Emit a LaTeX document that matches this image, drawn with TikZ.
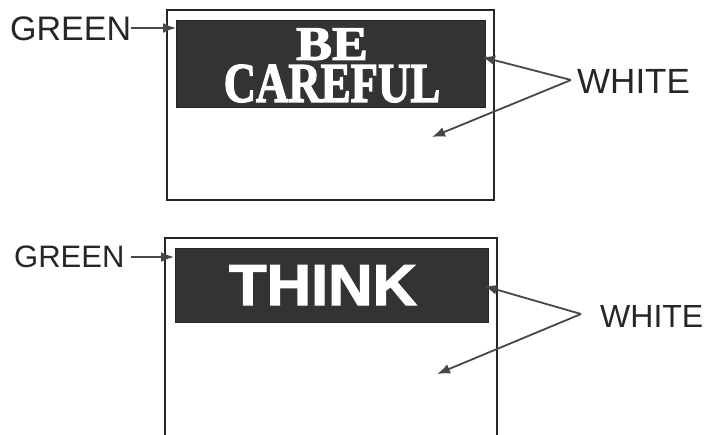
\documentclass[tikz,border=0pt]{standalone}
\usepackage{fontspec}
\setmainfont{Liberation Sans}
\newfontfamily\slabfont[FakeBold=2.5]{Liberation Serif}
\newfontfamily\heavysans[FakeBold=2]{Liberation Sans}
\usetikzlibrary{arrows.meta}
\definecolor{bandcol}{gray}{0.2}
\definecolor{inkcol}{gray}{0.15}
\tikzset{
  frameline/.style={line width=2pt, draw=inkcol},
  band/.style={fill=bandcol, draw=inkcol, line width=0.8pt},
  label/.style={text=inkcol, inner sep=0pt, anchor=base west},
  pointer/.style={draw=inkcol!85, line width=1.8pt, -{Latex[length=13pt,width=10pt]}},
  bandtext/.style={text=white, inner sep=0pt, text depth=0pt}
}
\begin{document}
\begin{tikzpicture}[x=1pt,y=-1pt]
\useasboundingbox (0,0) rectangle (712,434);
% ---------- top sign ----------
\draw[frameline] (167,10) rectangle (494,200);
\node[band, minimum width=309pt, minimum height=87pt, inner sep=0pt, anchor=north west] (band1) at (176,20) {};
\node[bandtext, anchor=south, align=center, font=\slabfont\bfseries\fontsize{48}{42}\selectfont] (becareful) at (332,102)
  {\scalebox{1.12}[1]{BE}\\{\fontsize{56}{42}\selectfont\scalebox{0.8}[1]{CAREFUL}}};
\node[label, font=\fontsize{34}{34}\selectfont] (green1) at (10,40) {GREEN};
\coordinate (g1tip) at (176,28);
\draw[pointer] (green1.east |- g1tip) -- (g1tip);
\node[label, font=\fontsize{35}{35}\selectfont] (white1) at (577,93) {WHITE};
\coordinate (w1a) at (482,57);
\coordinate (w1b) at (432,137);
\coordinate (w1o) at (571,80);
\draw[pointer] (w1o) -- (w1a);
\draw[pointer] (w1o) -- (w1b);
% ---------- bottom sign ----------
\draw[frameline] (165,436) -- (165,238) -- (497,238) -- (497,436);
\node[band, minimum width=313pt, minimum height=74pt, inner sep=0pt, anchor=north west] (band2) at (175,248) {};
\node[bandtext, anchor=base, font=\heavysans\bfseries\fontsize{58}{58}\selectfont, xscale=1.06] (think) at (323,305) {THINK};
\node[label, font=\fontsize{31}{31}\selectfont] (green2) at (14,267) {GREEN};
\coordinate (g2tip) at (174,257);
\draw[pointer] ([xshift=6pt]green2.east |- g2tip) -- (g2tip);
\node[label, font=\fontsize{32}{32}\selectfont] (white2) at (600,327) {WHITE};
\coordinate (w2a) at (484,286);
\coordinate (w2b) at (437,374);
\coordinate (w2o) at (581,314);
\draw[pointer] (w2o) -- (w2a);
\draw[pointer] (w2o) -- (w2b);
\end{tikzpicture}
\end{document}
